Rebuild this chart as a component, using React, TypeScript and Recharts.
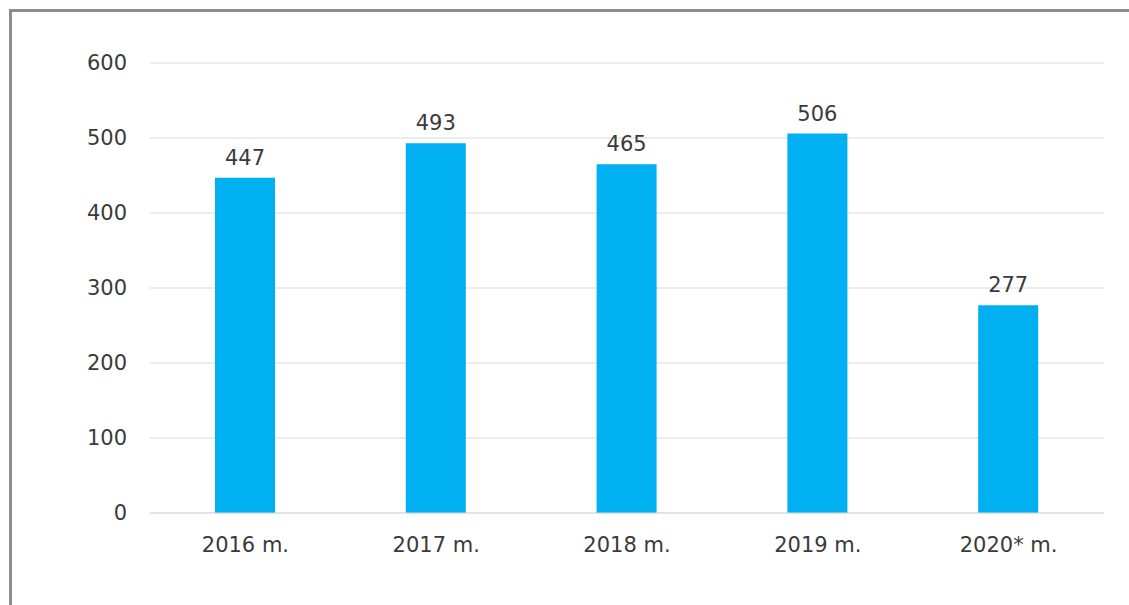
import * as React from 'react'
import { BarChart, Bar, XAxis, YAxis, CartesianGrid, LabelList } from 'recharts'

const years = ['2016 m.', '2017 m.', '2018 m.', '2019 m.', '2020* m.']
const values = [447, 493, 465, 506, 277]
const yTicks = [0, 100, 200, 300, 400, 500, 600]

const data = years.map((year, i) => ({ year, value: values[i] }))

const font = { fontFamily: 'DejaVu Sans', fontSize: 21, fill: '#3a3a3a' }

const App = () => {
  return (
    <div
      style={{
        position: 'fixed',
        left: 0,
        top: 0,
        width: 1129,
        height: 605,
        overflow: 'hidden',
        background: '#fff',
      }}
    >
      <div
        style={{
          position: 'absolute',
          left: 9,
          top: 9,
          width: 1140,
          height: 620,
          border: '3px solid #8c8c8c',
        }}
      />
      <div style={{ position: 'absolute', left: 0, top: 0 }}>
        <BarChart
          width={1129}
          height={605}
          data={data}
          margin={{ top: 63, right: 25, left: 80, bottom: 62 }}
        >
          <CartesianGrid vertical={false} stroke="#d9d9d9" />
          <XAxis
            dataKey="year"
            height={30}
            tickLine={false}
            axisLine={{ stroke: '#d9d9d9' }}
            tickMargin={18}
            tick={font}
          />
          <YAxis
            width={70}
            domain={[0, 600]}
            ticks={yTicks}
            tickLine={false}
            axisLine={false}
            tickMargin={17}
            tick={font}
          />
          <Bar dataKey="value" fill="#00b0f0" barSize={60} isAnimationActive={false}>
            <LabelList dataKey="value" position="top" offset={13} style={font} />
          </Bar>
        </BarChart>
      </div>
    </div>
  )
}

export default App
